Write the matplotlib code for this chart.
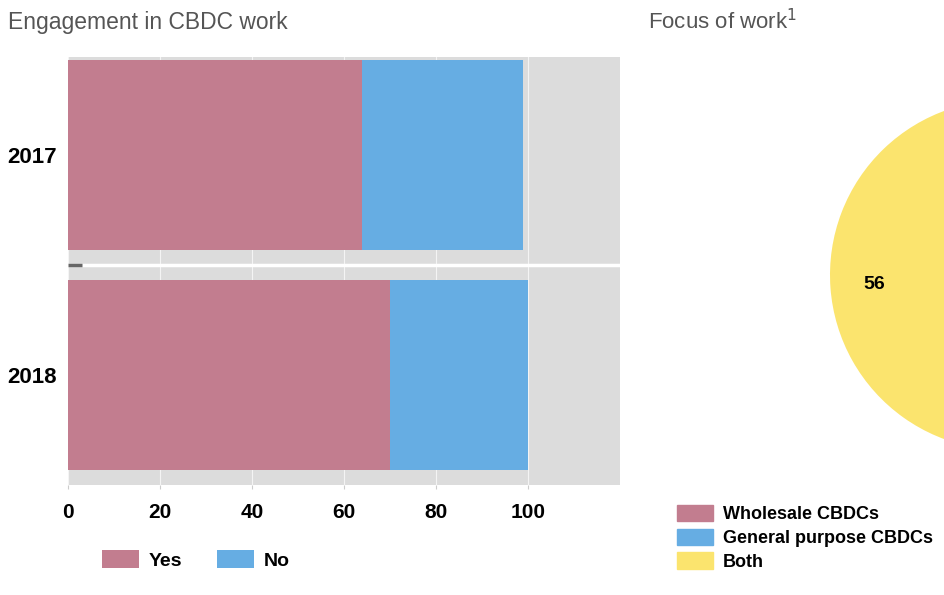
import numpy as np
import matplotlib.pyplot as plt
from matplotlib.patches import Patch

plt.rcParams['font.family'] = ['Liberation Sans', 'DejaVu Sans']

# engagement in CBDC work (% of central banks)
years = ['2017', '2018']
yes_vals = [64, 70]
no_vals = [35, 30]

# focus of work (%), only "Both" visible in the picture
focus_labels = ['Wholesale CBDCs', 'General purpose CBDCs', 'Both']
focus_vals = [12, 32, 56]

pink = '#C27D8F'
blue = '#66ADE3'
yellow = '#FBE46E'
grey = '#DCDCDC'

fig = plt.figure(figsize=(9.44, 5.95), dpi=100)

# bar panel
ax = fig.add_axes([68/944, 1-485/595, 552/944, 428/595])
ax.set_facecolor(grey)
y = np.arange(len(years))
ax.barh(y, yes_vals, height=0.86, color=pink, zorder=3, label='Yes')
ax.barh(y, no_vals, left=yes_vals, height=0.86, color=blue, zorder=3, label='No')
ax.set_xlim(0, 120)
ax.set_ylim(1.5, -0.445)
ax.set_xticks([0, 20, 40, 60, 80, 100])
ax.set_yticks(y)
ax.set_yticklabels(years)
ax.set_yticks([0.5], minor=True)
ax.grid(axis='x', color='white', lw=0.8, alpha=0.7, zorder=1)
ax.grid(axis='y', which='minor', color='white', lw=2.5, zorder=1)
ax.tick_params(axis='x', length=3, color='#cccccc', labelsize=15, pad=10)
ax.tick_params(axis='y', length=0, labelsize=16, pad=8)
ax.tick_params(axis='y', which='minor', length=10, width=2.5, direction='in', color='#666666')
for lab in ax.get_xticklabels() + ax.get_yticklabels():
    lab.set_fontweight('bold')
for s in ax.spines.values():
    s.set_visible(False)

fig.text(8/944, 1-22/595, 'Engagement in CBDC work', fontsize=16.5, color='#555555',
         va='center', ha='left')
fig.text(648/944, 1-22/595, 'Focus of work$^1$', fontsize=16, color='#555555',
         va='center', ha='left')

leg1 = ax.legend(loc='upper left', bbox_to_anchor=(92/944, 1-540/595),
                 bbox_transform=fig.transFigure, ncol=2, frameon=False,
                 borderpad=0, prop={'weight': 'bold', 'size': 14},
                 handlelength=1.9, handleheight=1.1, columnspacing=1.8,
                 handletextpad=0.5)

# pie panel, mostly off the right edge
pax = fig.add_axes([830/944, 145/595, 350/944, 350/595])
wedges, texts, autotexts = pax.pie(focus_vals, colors=[pink, blue, yellow],
                                   startangle=285, autopct=lambda p: f'{p:.0f}',
                                   pctdistance=0.75,
                                   textprops={'weight': 'bold', 'size': 14})
for t in autotexts[:2]:
    t.set_visible(False)
pax.set_xlim(-1, 1)
pax.set_ylim(-1, 1)
pax.set_aspect('auto')
pax.axis('off')

handles = [Patch(color=c) for c in [pink, blue, yellow]]
fig.legend(handles, focus_labels, loc='upper left',
           bbox_to_anchor=(668/944, 1-496/595), frameon=False, borderpad=0,
           prop={'weight': 'bold', 'size': 13}, handlelength=2.0,
           handleheight=1.0, labelspacing=0.3, handletextpad=0.55)

fig.savefig('out.png', dpi=100)
